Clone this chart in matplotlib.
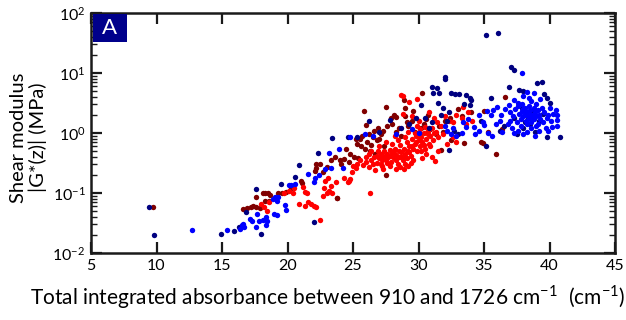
import numpy as np
import matplotlib
matplotlib.use("Agg")
from matplotlib import pyplot as plt
from matplotlib.patches import Rectangle
from matplotlib.ticker import LogLocator, NullFormatter

plt.rcParams['font.family'] = ['Lato', 'DejaVu Sans']
plt.rcParams['mathtext.fontset'] = 'custom'
plt.rcParams['mathtext.rm'] = 'Lato'

# (absorbance, shear modulus MPa), one list per colour
navy_pts = [
    (9.4, 0.058), (9.8, 0.020), (14.9, 0.0205), (15.9, 0.023), (16.3, 0.027), (16.8, 0.048),
    (17.6, 0.118), (18.0, 0.021), (19.5, 0.142), (20.6, 0.184), (20.9, 0.295), (22.0, 0.033),
    (22.3, 0.47), (23.4, 0.81), (24.6, 0.87), (25.3, 0.87), (27.8, 1.66), (29.8, 1.8),
    (30.2, 2.9), (31.0, 5.8), (31.4, 5.6), (31.6, 4.6), (31.1, 4.7), (32.0, 8.7), (32.0, 7.85),
    (32.5, 4.6), (33.1, 4.4), (32.8, 4.4), (33.6, 4.3), (33.9, 3.8), (34.0, 3.6), (31.5, 3.2),
    (31.9, 2.6), (32.3, 2.2), (31.7, 2.0), (32.2, 1.6), (30.5, 1.75), (31.0, 1.5), (32.3, 0.52),
    (33.5, 3.1), (33.9, 2.9), (35.15, 43.5), (36.07, 47), (37.06, 12.4), (37.3, 11.2),
    (39.07, 6.9), (39.4, 7.2), (36.9, 5.9), (37.7, 5.3), (38.0, 5.0), (35.5, 3.9), (39.6, 4.5),
    (39.8, 3.8), (40.0, 3.2), (40.8, 0.87), (39.8, 0.85), (35.15, 0.61), (38.0, 1.2), (38.5, 1.4),
    (38.9, 1.05), (37.5, 0.95), (36.2, 1.1), (34.8, 1.6), (36.5, 1.3), (33.0, 0.95), (32.7, 1.1),
    (28.7, 1.2), (27.0, 1.05), (26.2, 1.6), (29.3, 1.4), (30.8, 1.2), (38.3, 1.9), (38.7, 2.3),
    (37.9, 2.6), (39.2, 1.6), (38.1, 1.55), (39.5, 2.1), (37.3, 1.8),
]
blue_pts = [
    (12.7, 0.024), (15.4, 0.024), (16.4, 0.025), (16.5, 0.029), (16.7, 0.027), (16.6, 0.03),
    (17.1, 0.037), (17.3, 0.0345), (17.6, 0.0275), (17.7, 0.045), (17.8, 0.0345), (18.15, 0.036),
    (18.35, 0.040), (18.35, 0.029), (18.4, 0.0345), (19.05, 0.087), (19.2, 0.074), (19.0, 0.045),
    (19.2, 0.043), (19.8, 0.063), (19.9, 0.052), (20.1, 0.137), (20.3, 0.137), (20.6, 0.14),
    (18.9, 0.08), (19.3, 0.085), (21.6, 0.21), (22.1, 0.18), (22.9, 0.25), (23.3, 0.26),
    (23.2, 0.47), (23.9, 0.54), (24.2, 0.26), (22.4, 0.2), (22.0, 0.15), (24.8, 0.85),
    (25.9, 0.95), (26.5, 0.9), (28.3, 0.95), (29.5, 1.15), (30.0, 1.0),
    (32.0, 1.3), (32.2, 1.1), (32.5, 0.95), (32.6, 1.2), (32.9, 0.9), (33.3, 1.0), (33.6, 1.25),
    (34.2, 1.28), (34.6, 1.1), (35.0, 1.35), (35.3, 1.0), (35.6, 0.9), (35.9, 1.4), (34.3, 0.95),
    (34.9, 1.5), (35.5, 2.0), (35.7, 2.4), (36.0, 2.7), (36.3, 2.0), (36.6, 2.5), (36.2, 1.6),
    (36.8, 1.4), (36.4, 1.05), (34.6, 2.0), (35.2, 2.3), (33.8, 1.7), (33.4, 1.5),
    (37.9, 10.1), (38.3, 4.9), (38.8, 4.6), (37.3, 3.6), (37.6, 3.2), (38.0, 4.2), (38.4, 3.9),
    (38.6, 3.4), (37.9, 3.1), (39.3, 3.7), (39.0, 3.0), (40.0, 2.6),
    (37.0, 2.2), (37.2, 1.9), (37.4, 2.5), (37.5, 1.5), (37.7, 2.1), (37.8, 1.7), (37.9, 2.3),
    (38.0, 1.9), (38.1, 2.6), (38.2, 2.0), (38.2, 1.6), (38.3, 2.2), (38.4, 1.8), (38.4, 2.8),
    (38.5, 2.4), (38.5, 2.0), (38.6, 1.5), (38.7, 2.0), (38.8, 2.6), (38.8, 1.7), (38.9, 2.2),
    (39.0, 1.9), (39.1, 2.4), (39.1, 1.4), (39.2, 2.0), (39.3, 1.7), (39.4, 2.6), (39.5, 1.5),
    (39.6, 2.2), (39.7, 1.2), (39.8, 1.8), (39.9, 2.0), (40.1, 1.6), (40.3, 2.1), (40.5, 2.4),
    (40.6, 2.0), (40.6, 1.66), (40.6, 1.3), (40.2, 1.25), (39.9, 1.1), (37.1, 1.2), (37.3, 1.0),
    (37.6, 1.1), (38.0, 0.95), (38.3, 1.05), (38.6, 1.2), (38.9, 0.9), (39.2, 1.1), (37.0, 1.6),
    (36.9, 2.9), (37.6, 2.8), (38.0, 2.5), (38.3, 1.4), (39.0, 1.3), (38.1, 2.2), (38.6, 1.85),
    (37.8, 1.3),
]
darkred_pts = [
    (9.7, 0.058), (16.6, 0.055), (16.9, 0.057), (17.2, 0.058), (17.4, 0.06), (17.6, 0.058),
    (17.9, 0.056), (17.6, 0.086), (18.1, 0.099), (18.3, 0.10), (18.5, 0.099), (18.7, 0.092),
    (18.3, 0.074), (18.6, 0.074), (19.3, 0.10), (19.6, 0.1), (19.85, 0.105), (20.3, 0.12),
    (21.0, 0.16), (21.1, 0.145), (22.1, 0.23), (22.2, 0.26), (22.15, 0.31), (22.5, 0.3),
    (23.0, 0.27), (23.3, 0.35), (23.75, 0.081), (24.0, 0.35), (24.3, 0.37), (24.1, 0.3),
    (24.5, 0.55), (24.8, 0.45), (25.1, 0.4), (25.4, 0.38), (25.2, 0.8), (25.5, 0.78),
    (25.84, 2.33), (26.0, 1.35), (25.6, 0.6), (25.9, 0.55), (26.1, 0.7), (26.3, 0.5),
    (26.5, 0.85), (26.8, 0.75), (26.6, 1.1), (26.9, 1.2), (27.1, 0.95), (27.3, 1.1),
    (27.5, 2.7), (27.9, 1.8), (28.1, 2.0), (28.3, 1.85), (28.0, 1.4), (28.5, 1.2), (29.0, 2.6),
    (29.0, 1.9), (29.1, 1.5), (29.2, 1.3), (30.3, 4.6), (30.4, 1.4), (30.6, 1.7), (30.7, 2.0),
    (30.2, 1.2), (31.3, 0.95), (31.6, 1.3), (32.0, 1.6), (32.4, 1.8), (33.0, 2.5), (33.5, 0.68),
    (32.5, 0.75), (31.7, 0.52), (34.8, 0.72), (34.9, 0.67), (35.9, 0.44), (36.6, 4.0),
    (36.35, 1.15), (35.3, 1.05), (34.0, 2.2), (35.0, 2.3), (27.5, 0.2), (23.75, 0.084),
    (26.7, 0.45), (27.4, 0.6), (28.7, 0.9), (29.7, 1.05), (30.9, 1.15), (28.9, 3.6), (29.6, 2.3),
    (25.3, 0.65), (25.7, 0.9), (26.2, 0.95), (26.4, 0.62), (27.0, 0.8), (27.6, 1.3),
    (28.3, 1.05), (29.5, 1.6), (30.1, 0.95), (31.9, 1.05), (33.3, 1.9), (23.6, 0.4),
    (24.7, 0.33), (22.7, 0.22),
]
red_pts = [
    (18.2, 0.059), (18.4, 0.05), (18.6, 0.07), (18.0, 0.065), (19.7, 0.1), (20.1, 0.11),
    (20.5, 0.12), (20.4, 0.1), (20.9, 0.066), (21.2, 0.128), (21.3, 0.105), (21.5, 0.1),
    (21.3, 0.06), (21.6, 0.07), (21.8, 0.065), (22.0, 0.06), (22.2, 0.058), (22.5, 0.036),
    (22.8, 0.12), (22.9, 0.16), (23.1, 0.18), (23.3, 0.13), (23.4, 0.1), (22.7, 0.09),
    (23.0, 0.1), (23.2, 0.11), (24.7, 0.16), (24.8, 0.17), (24.6, 0.15), (25.0, 0.28),
    (25.3, 0.3), (25.2, 0.26), (26.2, 0.27), (26.3, 0.1), (25.8, 0.29), (26.0, 0.33),
    (26.4, 0.36), (26.6, 0.4), (26.8, 0.42), (26.5, 0.3),
    (27.0, 0.38), (27.1, 0.45), (27.2, 0.35), (27.3, 0.42), (27.4, 0.5), (27.5, 0.36),
    (27.6, 0.44), (27.7, 0.4), (27.8, 0.52), (27.9, 0.33), (28.0, 0.46), (28.1, 0.38),
    (28.2, 0.55), (28.3, 0.43), (28.4, 0.3), (28.5, 0.5), (28.6, 0.62), (28.7, 0.4),
    (28.8, 0.35), (28.9, 0.55), (29.0, 0.45), (29.1, 0.7), (29.2, 0.5), (29.3, 0.6),
    (29.4, 0.42), (29.5, 0.8), (29.6, 0.55), (29.7, 0.65), (29.8, 0.9), (29.9, 0.5),
    (30.0, 0.75), (30.1, 0.6), (30.2, 0.85), (30.3, 0.7), (30.4, 1.0), (30.5, 0.55),
    (30.6, 0.8), (30.7, 1.1), (30.8, 0.65), (30.9, 0.9), (31.0, 1.2), (31.1, 0.75),
    (31.25, 0.34), (31.3, 1.05), (31.5, 0.85), (31.7, 1.3), (31.9, 0.95), (29.0, 0.3),
    (28.6, 0.27), (29.4, 0.32), (27.8, 0.28), (27.2, 0.28), (28.0, 0.65), (28.4, 0.75),
    (29.0, 0.85), (29.7, 1.0), (30.1, 1.15), (30.5, 1.25), (27.5, 0.7), (27.0, 0.6),
    (28.8, 4.2), (28.7, 4.3), (29.9, 3.7), (29.3, 3.3), (28.8, 2.07), (29.5, 1.9), (30.0, 1.6),
    (30.8, 2.2), (31.2, 1.8), (32.0, 1.9), (32.3, 1.6), (32.6, 1.5), (32.9, 2.0), (33.3, 1.8),
    (33.4, 2.7), (33.6, 1.4), (33.8, 2.2), (34.1, 1.6), (32.6, 0.85), (32.9, 0.7), (30.6, 0.45),
    (31.5, 0.5), (32.2, 0.65), (31.0, 0.4), (26.9, 0.5), (26.2, 0.45), (25.5, 0.35),
    (24.9, 0.22), (24.3, 0.18), (23.7, 0.15), (29.6, 0.35), (30.3, 0.38), (30.9, 0.6),
    (28.2, 0.9), (29.2, 1.05), (26.8, 0.32), (28.3, 0.25),
    (27.1, 0.31), (27.4, 0.39), (27.6, 0.32), (27.9, 0.42), (28.1, 0.5), (28.3, 0.35),
    (28.5, 0.4), (28.7, 0.48), (28.9, 0.42), (29.1, 0.38), (29.3, 0.48), (29.5, 0.6),
    (29.8, 0.7), (30.0, 0.9), (30.2, 0.5), (30.4, 0.62), (29.2, 0.28), (28.9, 0.25),
    (27.3, 0.25), (26.7, 0.24), (30.7, 0.95), (31.2, 1.0), (29.9, 1.3), (31.4, 1.5),
    (26.4, 0.5), (26.0, 0.4),
]

groups = [
    (darkred_pts, '#800000'),
    (red_pts, '#ff0000'),
    (navy_pts, '#000080'),
    (blue_pts, '#0000ff'),
]

fig = plt.figure(figsize=(6.26, 3.2), dpi=100)
ax = fig.add_axes([91/626, 1 - 253/320, (615-91)/626, (253-13)/320])

for pts, col in groups:
    a = np.array(pts)
    ax.scatter(a[:, 0], a[:, 1], s=15, c=col, linewidths=0, zorder=3)

ax.set_yscale('log')
ax.set_xlim(5, 45)
ax.set_ylim(1e-2, 1e2)
ax.set_xticks(np.arange(5, 46, 5))
ax.yaxis.set_major_locator(LogLocator(base=10, numticks=10))
ax.yaxis.set_minor_locator(LogLocator(base=10, subs=np.arange(2, 10), numticks=10))
ax.yaxis.set_minor_formatter(NullFormatter())
ax.tick_params(which='major', direction='in', length=8, width=1.6, top=True, right=True,
               labelsize=11.5, pad=4, color='#1a1a1a')
ax.tick_params(which='minor', direction='in', length=4, width=1.0, right=True, color='#1a1a1a')
ax.tick_params(axis='x', which='minor', bottom=False, top=False)
for sp in ax.spines.values():
    sp.set_linewidth(1.8)
    sp.set_color('#1a1a1a')

# panel letter
ax.add_patch(Rectangle((0.003, 0.88), 0.066, 0.115, transform=ax.transAxes,
                       facecolor='#00008b', edgecolor='none', zorder=5))
ax.text(0.036, 0.937, 'A', transform=ax.transAxes, color='white', fontsize=16,
        ha='center', va='center', zorder=6)

fig.text(0.523, 0.072, 'Total integrated absorbance between 910 and 1726 cm$^{-1}$  (cm$^{-1}$)',
         ha='center', va='center', fontsize=15)
fig.text(0.046, 0.57, 'Shear modulus\n|G*(z)| (MPa)', rotation=90, ha='center', va='center',
         fontsize=14.5, multialignment='center', linespacing=1.1)

fig.savefig('out.png', dpi=100)
